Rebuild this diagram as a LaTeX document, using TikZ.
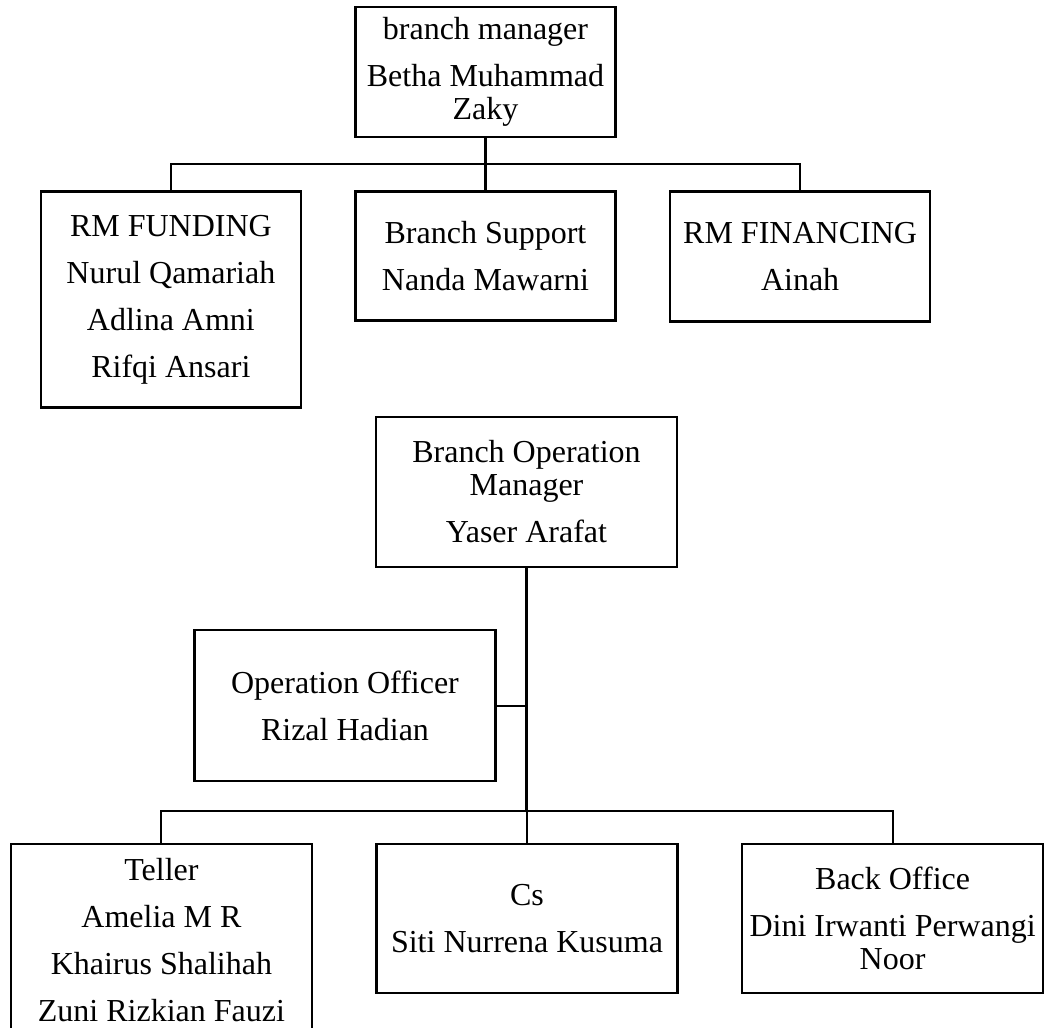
\documentclass[tikz,border=0pt]{standalone}
\usepackage{fontspec}
\setmainfont{Liberation Serif}
\usetikzlibrary{positioning}
\tikzset{
    unit/.style={rectangle, draw=black, line width=1.3pt, align=center, minimum width=130pt, font=\fontsize{16pt}{16.5pt}\selectfont},
    wideunit/.style={unit, minimum width=150.5pt},
    trunk/.style={draw, line width=1.4pt},
    branch/.style={draw, line width=1pt}
}

\begin{document}
\begin{tikzpicture}[x=0.5pt, y=-0.5pt]
\useasboundingbox (0,0) rectangle (1046,1028);
\clip (0,0) rectangle (1046,1028);

% Branch manager and its units
\node (bm) [unit, minimum height=65pt] at (485.5,72) {branch manager\\[7pt]Betha Muhammad\\Zaky};
\node (bs) [unit, minimum height=64.5pt, below=26pt of bm] {Branch Support\\[7pt]Nanda Mawarni};
\node (rmf) [unit, minimum height=108pt, left=26pt of bs.north west, anchor=north east] {RM FUNDING\\[7pt]Nurul Qamariah\\[7pt]Adlina Amni\\[7pt]Rifqi Ansari};
\node (rmfin) [unit, minimum height=65pt, right=26pt of bs.north east, anchor=north west] {RM FINANCING\\[7pt]Ainah};

% Operations
\node (bom) [wideunit, minimum height=75pt] at (526.5,492) {Branch Operation\\Manager\\[7pt]Yaser Arafat};
\node (oo) [wideunit, minimum height=75.5pt] at (345,705.5) {Operation Officer\\[7pt]Rizal Hadian};

% Front and back office
\node (cs) [wideunit, minimum height=74.5pt] at (527,918.5) {Cs\\[7pt]Siti Nurrena Kusuma};
\node (teller) [wideunit, minimum height=96.5pt, left=31pt of cs.north west, anchor=north east] {Teller\\[7pt]Amelia M R\\[7pt]Khairus Shalihah\\[7pt]Zuni Rizkian Fauzi};
\node (bo) [wideunit, minimum height=74.5pt, right=31pt of cs.north east, anchor=north west] {Back Office\\[7pt]Dini Irwanti Perwangi\\Noor};

% Lines
\coordinate (bus1) at ([yshift=-13pt]bm.south);
\coordinate (bus2) at ([yshift=16pt]cs.north);
\draw[trunk] (bm.south) -- (bs.north);
\draw[branch] (rmf.north) |- (bus1) -| (rmfin.north);
\draw[trunk] (bom.south) -- (bom.south |- bus2);
\draw[branch] (bus2) -- (cs.north);
\draw[branch] (teller.north) |- (bus2) -| (bo.north);
\draw[branch] (oo.east) -- (oo.east -| bom.south);

\end{tikzpicture}
\end{document}
